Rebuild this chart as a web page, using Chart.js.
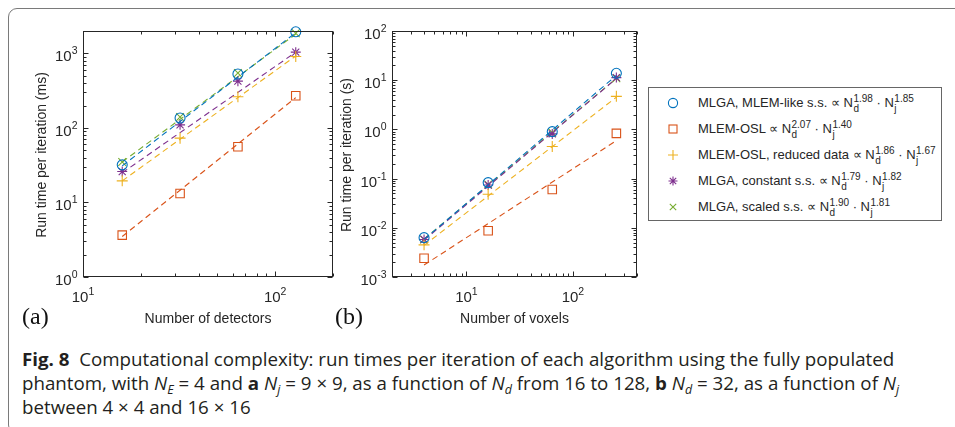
<!DOCTYPE html>
<html><head><meta charset="utf-8">
<script src="https://cdn.jsdelivr.net/npm/chart.js@4.4.1/dist/chart.umd.min.js"></script>
<style>
html,body{margin:0;padding:0;background:#fff;}
body{width:955px;height:427px;position:relative;overflow:hidden;font-family:"Liberation Sans",Arial,Helvetica,sans-serif;color:#262626;}
#frame{position:absolute;left:8px;top:8px;width:1000px;height:426px;border:1px solid #7a7a7a;border-radius:9px;box-sizing:border-box;}
canvas{position:absolute;top:0;}
#ca{left:0;}
#cb{left:335px;}
.plab{position:absolute;font-family:"Liberation Serif","Times New Roman",serif;font-size:24px;color:#111;line-height:24px;}
#legend{position:absolute;left:648px;top:87px;width:294px;height:134px;border:1px solid #666;box-sizing:border-box;background:#fff;}
.mk{position:absolute;left:18px;width:12px;height:12px;}
.row{position:absolute;left:49px;height:20px;line-height:20px;font-size:13px;white-space:nowrap;color:#262626;}
.ss{display:inline-block;vertical-align:-5px;font-size:10px;line-height:10px;margin-left:0.5px;}
.ss span{display:block;}
.cl{position:absolute;left:22px;font-family:"Open Sans","Liberation Sans",sans-serif;font-size:18px;line-height:24px;white-space:nowrap;color:#231f20;transform-origin:0 50%;}
.cl sub{font-size:12px;vertical-align:-4px;line-height:0;}
.cl b{font-weight:700;}
</style>
</head><body>
<div id="frame"></div>
<canvas id="ca" width="345" height="335"></canvas>
<canvas id="cb" width="310" height="335"></canvas>
<div class="plab" style="left:22px;top:304px;">(a)</div>
<div class="plab" style="left:335px;top:304px;">(b)</div>

<div id="legend">
  <svg class="mk" style="top:9px" viewBox="0 0 12 12"><circle cx="6" cy="6" r="4.6" fill="none" stroke="#0072BD" stroke-width="1.1"/></svg>
  <div class="row" style="top:5px">MLGA, MLEM-like s.s. ∝ N<span class="ss"><span>1.98</span><span>d</span></span> · N<span class="ss"><span>1.85</span><span>j</span></span></div>
  <svg class="mk" style="top:35px" viewBox="0 0 12 12"><rect x="2" y="2" width="8" height="8" fill="none" stroke="#D95319" stroke-width="1.1"/></svg>
  <div class="row" style="top:31px">MLEM-OSL ∝ N<span class="ss"><span>2.07</span><span>d</span></span> · N<span class="ss"><span>1.40</span><span>j</span></span></div>
  <svg class="mk" style="top:61px" viewBox="0 0 12 12"><path d="M1 6H11M6 1V11" stroke="#EDB120" stroke-width="1.1" fill="none"/></svg>
  <div class="row" style="top:57px">MLEM-OSL, reduced data ∝ N<span class="ss"><span>1.86</span><span>d</span></span> · N<span class="ss"><span>1.67</span><span>j</span></span></div>
  <svg class="mk" style="top:87px" viewBox="0 0 12 12"><path d="M1.5 6H10.5M6 1.5V10.5M2.8 2.8L9.2 9.2M2.8 9.2L9.2 2.8" stroke="#7E2F8E" stroke-width="1.1" fill="none"/></svg>
  <div class="row" style="top:83px">MLGA, constant s.s. ∝ N<span class="ss"><span>1.79</span><span>d</span></span> · N<span class="ss"><span>1.82</span><span>j</span></span></div>
  <svg class="mk" style="top:113px" viewBox="0 0 12 12"><path d="M2.8 2.8L9.2 9.2M2.8 9.2L9.2 2.8" stroke="#77AC30" stroke-width="1.1" fill="none"/></svg>
  <div class="row" style="top:109px">MLGA, scaled s.s. ∝ N<span class="ss"><span>1.90</span><span>d</span></span> · N<span class="ss"><span>1.81</span><span>j</span></span></div>
</div>

<div class="cl" id="c1" style="top:347px"><span id="pre"><b>Fig. 8</b>&nbsp; Computational complexity: r</span>un times per iteration of each algorithm using the fully populated</div>
<div class="cl" id="c2" style="top:371px">phantom, with <i>N</i><sub><i>E</i></sub> = 4 and <b>a</b> <i>N</i><sub><i>j</i></sub> = 9 × 9, as a function of <i>N</i><sub><i>d</i></sub> from 16 to 128, <b>b</b> <i>N</i><sub><i>d</i></sub> = 32, as a function of <i>N</i><sub><i>j</i></sub></div>
<div class="cl" id="c3" style="top:395px">between 4 × 4 and 16 × 16</div>

<script>
// ---------- data ----------
const detectors = [16, 32, 64, 128];
const voxels = [4, 16, 64, 256];

// panel (a): run time per iteration (ms) vs number of detectors
const likeA   = [32, 136, 530, 1950];
const oslA    = [3.65, 13.2, 56, 270];
const redA    = [19.5, 73, 262, 910];
const constA  = [26, 110, 425, 1040];
const scaledA = [35, 140, 545, 1870];
// fitted power-law lines (values at first and last detector count)
const fitLikeA   = [31, 1900];
const fitOslA    = [3.5, 255];
const fitRedA    = [19.5, 925];
const fitConstA  = [25, 1040];
const fitScaledA = [35, 1820];

// panel (b): run time per iteration (s) vs number of voxels
const likeB   = [0.0063, 0.083, 0.90, 13.8];
const oslB    = [0.0024, 0.0087, 0.060, 0.83];
const redB    = [0.0045, 0.048, 0.45, 4.7];
const constB  = [0.0058, 0.074, 0.81, 11.3];
const scaledB = [0.0058, 0.076, 0.86, 11.0];
const fitLikeB   = [0.0058, 12.5];
const fitOslB    = [0.00175, 0.59];
const fitRedB    = [0.0044, 4.5];
const fitConstB  = [0.0056, 10.8];
const fitScaledB = [0.0059, 10.9];

// tick labels (exponents of 10)
const xTickExpA = [1, 2];
const yTickExpA = [0, 1, 2, 3];
const xTickExpB = [1, 2];
const yTickExpB = [-3, -2, -1, 0, 1, 2];

// ---------- styling ----------
const C = {like:'#0072BD', osl:'#D95319', red:'#EDB120', cst:'#7E2F8E', scl:'#77AC30'};
const styles = [
  {key:'like', pt:'circle', r:5},
  {key:'osl', pt:'rect', r:6},
  {key:'red', pt:'cross', r:5.5},
  {key:'cst', pt:'star', r:5},
  {key:'scl', pt:'crossRot', r:5.5}
];

function makeDatasets(xs, series, fits) {
  const out = [];
  series.forEach((ys, i) => {
    const st = styles[i], col = C[st.key];
    out.push({
      data: xs.map((x, k) => ({x, y: ys[k]})),
      showLine:false, pointStyle:st.pt, pointRadius:st.r, pointBorderColor:col,
      pointBackgroundColor:'rgba(0,0,0,0)', pointBorderWidth:1.1, clip:false
    });
    const fx = [xs[0], xs[xs.length-1]];
    out.push({
      data: fx.map((x, k) => ({x, y: fits[i][k]})),
      showLine:true, pointRadius:0, borderColor:col, borderWidth:1.1,
      borderDash:[6,4], fill:false, clip:false
    });
  });
  return out;
}

const FONT = '"Liberation Sans", Arial, Helvetica, sans-serif';

function logTicks(lo, hi) {
  const res = [];
  for (let k = Math.floor(Math.log10(lo)) - 1; k <= Math.ceil(Math.log10(hi)); k++) {
    for (let m = 1; m <= 9; m++) {
      const v = m * Math.pow(10, k);
      if (v >= lo * 0.9999 && v <= hi * 1.0001) res.push({v, major: m === 1});
    }
  }
  return res;
}

function drawPow(ctx, exp, px, baseY, align) {
  ctx.font = '15px ' + FONT;
  const w1 = ctx.measureText('10').width;
  ctx.font = '10.5px ' + FONT;
  const e = String(exp);
  const w2 = ctx.measureText(e).width;
  const x0 = align === 'center' ? px - (w1 + w2) / 2 : px - (w1 + w2);
  ctx.textAlign = 'left'; ctx.textBaseline = 'alphabetic';
  ctx.font = '15px ' + FONT;
  ctx.fillText('10', x0, baseY);
  ctx.font = '10.5px ' + FONT;
  ctx.fillText(e, x0 + w1, baseY - 7);
}

function axesPlugin(cfg) {
  return {
    id: 'matlabAxes',
    afterDraw(chart) {
      const {ctx, chartArea: ca, scales: {x, y}} = chart;
      ctx.save();
      const L = Math.round(ca.left) + 0.5, R = Math.round(ca.right) - 0.5;
      const T = Math.round(ca.top) + 0.5, B = Math.round(ca.bottom) - 0.5;
      ctx.strokeStyle = '#262626'; ctx.lineWidth = 1; ctx.setLineDash([]);
      ctx.strokeRect(L, T, R - L, B - T);
      ctx.beginPath();
      logTicks(cfg.xmin, cfg.xmax).forEach(t => {
        const px = Math.round(x.getPixelForValue(t.v)) + 0.5, len = t.major ? 5 : 3;
        ctx.moveTo(px, B); ctx.lineTo(px, B - len);
        ctx.moveTo(px, T); ctx.lineTo(px, T + len);
      });
      logTicks(cfg.ymin, cfg.ymax).forEach(t => {
        const py = Math.round(y.getPixelForValue(t.v)) + 0.5, len = t.major ? 5 : 3;
        ctx.moveTo(L, py); ctx.lineTo(L + len, py);
        ctx.moveTo(R, py); ctx.lineTo(R - len, py);
      });
      ctx.stroke();
      ctx.fillStyle = '#262626';
      cfg.xExp.forEach(e => drawPow(ctx, e, x.getPixelForValue(Math.pow(10, e)), B + 25, 'center'));
      cfg.yExp.forEach(e => drawPow(ctx, e, L - 6, y.getPixelForValue(Math.pow(10, e)) + 8, 'right'));
      ctx.font = '14px ' + FONT;
      ctx.textAlign = 'center'; ctx.textBaseline = 'alphabetic';
      ctx.fillText(cfg.xTitle, (L + R) / 2, 323);
      ctx.save();
      ctx.translate(cfg.yTitleX, (T + B) / 2 + 1);
      ctx.rotate(-Math.PI / 2);
      ctx.textBaseline = 'middle';
      ctx.fillText(cfg.yTitle, 0, 0);
      ctx.restore();
      ctx.restore();
    }
  };
}

function makeChart(id, cfg, datasets) {
  return new Chart(document.getElementById(id), {
    type: 'scatter',
    data: {datasets},
    options: {
      responsive: false, animation: false, devicePixelRatio: 1,
      layout: {padding: {top: 31, right: cfg.padRight, left: 0, bottom: 0}},
      plugins: {legend: {display: false}, tooltip: {enabled: false}},
      scales: {
        x: {type: 'logarithmic', min: cfg.xmin, max: cfg.xmax,
            grid: {display: false}, ticks: {display: false}, border: {display: false},
            afterFit(s) { s.height = 58; }},
        y: {type: 'logarithmic', min: cfg.ymin, max: cfg.ymax,
            grid: {display: false}, ticks: {display: false}, border: {display: false},
            afterFit(s) { s.width = cfg.yw; }}
      }
    },
    plugins: [axesPlugin(cfg)]
  });
}

const cfgA = {xmin: 10, xmax: 200, ymin: 1, ymax: 2000, yw: 83, padRight: 12,
  xExp: xTickExpA, yExp: yTickExpA, xTitle: 'Number of detectors',
  yTitle: 'Run time per iteration (ms)', yTitleX: 42};
const cfgB = {xmin: 2, xmax: 400, ymin: 0.001, ymax: 100, yw: 57, padRight: 8,
  xExp: xTickExpB, yExp: yTickExpB, xTitle: 'Number of voxels',
  yTitle: 'Run time per iteration (s)', yTitleX: 12};

makeChart('ca', cfgA, makeDatasets(detectors,
  [likeA, oslA, redA, constA, scaledA],
  [fitLikeA, fitOslA, fitRedA, fitConstA, fitScaledA]));
makeChart('cb', cfgB, makeDatasets(voxels,
  [likeB, oslB, redB, constB, scaledB],
  [fitLikeB, fitOslB, fitRedB, fitConstB, fitScaledB]));

// fit caption width to the reference's condensed typeface
(function () {
  const pre = document.getElementById('pre');
  const w = pre.getBoundingClientRect().width;
  let s = (326 - 22) / w;
  s = Math.max(0.7, Math.min(1.2, s));
  ['c1', 'c2', 'c3'].forEach(id => {
    document.getElementById(id).style.transform = 'scaleX(' + s.toFixed(4) + ')';
  });
})();
</script>
</body></html>
